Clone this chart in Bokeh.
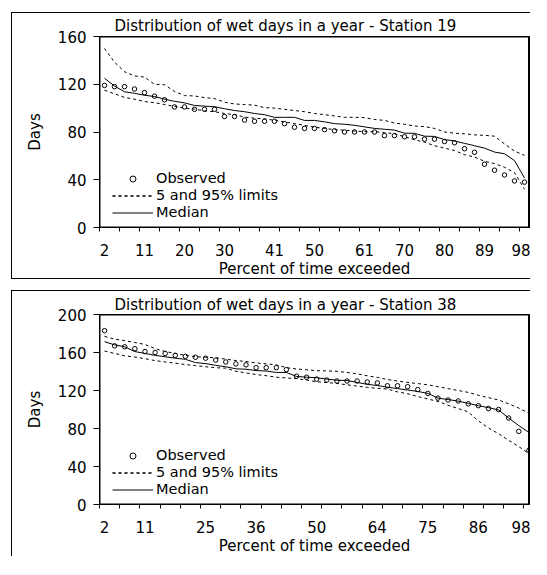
from bokeh.plotting import figure
from bokeh.layouts import column
from bokeh.models import FixedTicker, Legend, LegendItem, Range1d, BoxAnnotation, InlineStyleSheet
from bokeh.embed import file_html
from bokeh.resources import INLINE

# ---------------- data ----------------
n_years = 43
position = list(range(1, n_years + 1))          # category index (rank)

s19_observed = [119, 118, 118, 116, 113, 110, 107, 101, 101, 99, 99, 99, 93, 93, 90, 89, 89, 89,
                87, 84, 83, 83, 82, 81, 80, 80, 80, 80, 77, 77, 76, 76, 74, 74, 72, 71, 66, 63,
                53, 48, 44, 39, 38]
s19_median = [125, 118.5, 113.7, 112.4, 110.8, 109.7, 107.5, 105.7, 104.4, 102.2, 101.7, 101.2,
              99.5, 98, 97, 95.5, 94.5, 92.3, 92.3, 92.3, 89.7, 89.7, 88.5, 87, 86.5, 85.6, 84.3,
              83, 82.3, 81.6, 79, 78.9, 76.5, 76.3, 73.6, 72.5, 70.5, 68.5, 66.5, 63.2, 61.8, 56, 41.5]
s19_upper = [150, 138.5, 130.5, 127, 126, 120, 119.6, 114, 110.5, 110.2, 108.8, 108, 105, 103.5,
             103, 102.5, 100.4, 100, 99, 98, 97, 95.5, 94.5, 93.5, 92.3, 92.3, 92, 90.5, 89.7,
             87.5, 86.5, 85, 84.5, 83, 80, 79, 78.5, 77.6, 77.2, 76.5, 70, 64, 60.5]
s19_lower = [115, 112, 109, 107.5, 105.5, 104.5, 103, 101.5, 100, 99.2, 97.7, 97, 95.5, 94.5,
             92.5, 91.5, 91, 89.8, 88.5, 87, 85.6, 84, 83, 82, 81.5, 80.8, 80.3, 80.3, 79.5, 78.5,
             76, 73.5, 71.5, 68.5, 66.5, 64.5, 61, 59, 55.5, 53.5, 50.5, 46, 32]
s19_tick_pos = [1, 5, 9, 13, 18, 22, 27, 31, 35, 39, 43]
s19_tick_labels = ["2", "11", "20", "30", "41", "50", "61", "70", "80", "89", "98"]
s19_yticks = [0, 40, 80, 120, 160]

s38_observed = [183, 167, 166, 164, 161, 160, 159, 157, 156, 155, 154, 152, 150, 148, 147, 144,
                144, 144, 142, 135, 134, 132, 131, 130, 130, 130, 129, 128, 125, 125, 124, 121,
                117, 112, 110, 109, 106, 104, 101, 100, 91, 77, 57]
s38_median = [171.4, 168, 166, 161, 159, 157, 155.5, 154, 152.8, 149.4, 148.3, 146.5, 145, 142.8,
              142.4, 141, 140.5, 139, 139, 134.8, 134, 133.4, 132, 130.8, 130.5, 128.5, 126.5,
              125.2, 123.5, 122, 120.5, 119, 117, 112, 110.5, 108.8, 106.5, 104, 102, 99.5, 91, 83, 76]
s38_upper = [177, 174, 172.5, 170.5, 168.5, 164, 161, 159, 157, 155.5, 155, 154.5, 153, 151.5,
             150.5, 149, 148, 147, 144, 142.6, 141.8, 140.9, 140.6, 140.2, 139, 137.5, 135.5,
             133.8, 131.5, 130, 128.5, 127.3, 126, 124, 122, 120, 118, 115, 112.5, 110, 106, 101.5, 96]
s38_lower = [161.5, 159, 156.5, 155.2, 153.5, 151.5, 150, 148.8, 147.3, 146.2, 145, 144, 143.5,
             140.2, 138.5, 136.8, 135.6, 134, 133.2, 132.5, 131, 129.2, 128.4, 127.4, 126, 124.7,
             123.3, 122.3, 121.5, 118.5, 116.6, 113.6, 111, 108.5, 104.5, 101, 97.5, 88, 80.5,
             74.5, 67.5, 61, 53.5]
s38_tick_pos = [1, 5, 11, 16, 22, 28, 33, 38, 43]
s38_tick_labels = ["2", "11", "25", "36", "50", "64", "75", "86", "98"]
s38_yticks = [0, 40, 80, 120, 160, 200]

legend_labels = ["Observed", "5 and 95% limits", "Median"]

FONT = "DejaVu Sans"
FS = "15px"
LFS = "14.5px"
W = 519
MB_LEFT, MB_RIGHT, MB_TOP, MB_BOTTOM = 87, 2, 23, 53


def frame_box_css(h):
    # CSS overlay tracing the top and right edges of the plot area
    fw = W - MB_LEFT - MB_RIGHT
    fh = h - MB_TOP - MB_BOTTOM
    return InlineStyleSheet(css=(
        ":host::after { content: ''; position: absolute; "
        f"left: {MB_LEFT}px; top: {MB_TOP}px; width: {fw}px; height: {fh}px; "
        "border-top: 1px solid black; border-right: 1px solid black; "
        "box-sizing: border-box; pointer-events: none; z-index: 5; }"))


def panel(title, obs, med, up, lo, tpos, tlabels, yticks, x_end, h,
          title_offset, title_standoff, tick_standoff, xlab_standoff, margin, styles):
    p = figure(width=W, height=h, output_backend="svg", toolbar_location=None,
               x_range=Range1d(0.5, x_end), y_range=Range1d(0, yticks[-1]),
               min_border_left=MB_LEFT, min_border_right=MB_RIGHT,
               min_border_top=MB_TOP, min_border_bottom=MB_BOTTOM,
               background_fill_color="white", border_fill_color="white",
               margin=margin, styles=styles, stylesheets=[frame_box_css(h)])
    p.title.text = title
    p.title.align = "left"
    p.title.offset = title_offset
    p.title.standoff = title_standoff
    p.title.text_font = FONT
    p.title.text_font_size = FS
    p.title.text_font_style = "normal"
    p.title.text_color = "black"

    p.xgrid.visible = False
    p.ygrid.visible = False
    p.outline_line_color = "black"

    minor = [k + 0.5 for k in range(0, n_years, 2)]
    xa = p.xaxis[0]
    xa.ticker = FixedTicker(ticks=tpos, minor_ticks=minor)
    xa.major_label_overrides = dict(zip(tpos, tlabels))
    xa.major_tick_out = 0
    xa.major_tick_in = 0
    xa.minor_tick_out = 4
    xa.minor_tick_in = 0
    xa.minor_tick_line_color = "black"
    xa.axis_line_color = "black"
    xa.major_label_standoff = tick_standoff
    xa.major_label_text_font = FONT
    xa.major_label_text_font_size = FS
    xa.major_label_text_color = "black"
    xa.axis_label = "Percent of time exceeded"
    xa.axis_label_text_font = FONT
    xa.axis_label_text_font_size = FS
    xa.axis_label_text_font_style = "normal"
    xa.axis_label_text_color = "black"
    xa.axis_label_standoff = xlab_standoff

    ya = p.yaxis[0]
    ya.ticker = FixedTicker(ticks=yticks)
    ya.major_tick_out = 6
    ya.major_tick_in = 0
    ya.minor_tick_out = 0
    ya.minor_tick_in = 0
    ya.major_tick_line_color = "black"
    ya.axis_line_color = "black"
    ya.major_label_standoff = 7
    ya.major_label_text_font = FONT
    ya.major_label_text_font_size = FS
    ya.major_label_text_color = "black"
    ya.axis_label = "Days"
    ya.axis_label_text_font = FONT
    ya.axis_label_text_font_size = FS
    ya.axis_label_text_font_style = "normal"
    ya.axis_label_text_color = "black"
    ya.axis_label_standoff = 11

    # plot-area box
    p.add_layout(BoxAnnotation(left=0.5, right=x_end, bottom=yticks[0], top=yticks[-1],
                               fill_alpha=0, line_color="black", line_width=2,
                               line_alpha=1))

    r_up = p.line(position, up, line_color="black", line_width=1, line_dash="3 3")
    r_lo = p.line(position, lo, line_color="black", line_width=1, line_dash="3 3")
    r_med = p.line(position, med, line_color="black", line_width=1)
    r_obs = p.scatter(position, obs, marker="circle", size=4.5, line_color="black",
                      fill_color=None, line_width=1)

    # one legend per row so that the row pitch matches the original
    row_renderers = [[r_obs], [r_up, r_lo], [r_med]]
    row_offsets = [41, 24, 7]
    for label, rends, off in zip(legend_labels, row_renderers, row_offsets):
        lg = Legend(items=[LegendItem(label=label, renderers=rends)],
                    location=(13, off), margin=0, padding=0, spacing=0,
                    glyph_width=41, glyph_height=15, label_height=15, label_standoff=3,
                    label_text_font=FONT, label_text_font_size=LFS, label_text_color="black",
                    border_line_color=None, background_fill_alpha=0)
        p.add_layout(lg)
    return p


frame_line = "1px solid black"

p1 = panel("Distribution of wet days in a year - Station 19",
           s19_observed, s19_median, s19_upper, s19_lower,
           s19_tick_pos, s19_tick_labels, s19_yticks, n_years + 0.5,
           h=267, title_offset=15, title_standoff=3,
           tick_standoff=12, xlab_standoff=1,
           margin=(12, 0, 0, 11),
           styles={"border-left": frame_line, "border-top": frame_line,
                   "border-bottom": frame_line, "position": "relative"})

p2 = panel("Distribution of wet days in a year - Station 38",
           s38_observed, s38_median, s38_upper, s38_lower,
           s38_tick_pos, s38_tick_labels, s38_yticks, n_years + 0.06,
           h=266, title_offset=15, title_standoff=2,
           tick_standoff=12, xlab_standoff=1,
           margin=(11, 0, 0, 11),
           styles={"border-left": frame_line, "border-top": frame_line,
                   "position": "relative"})

layout = column(p1, p2, spacing=0)
open("out.html", "w").write(file_html(layout, INLINE))
